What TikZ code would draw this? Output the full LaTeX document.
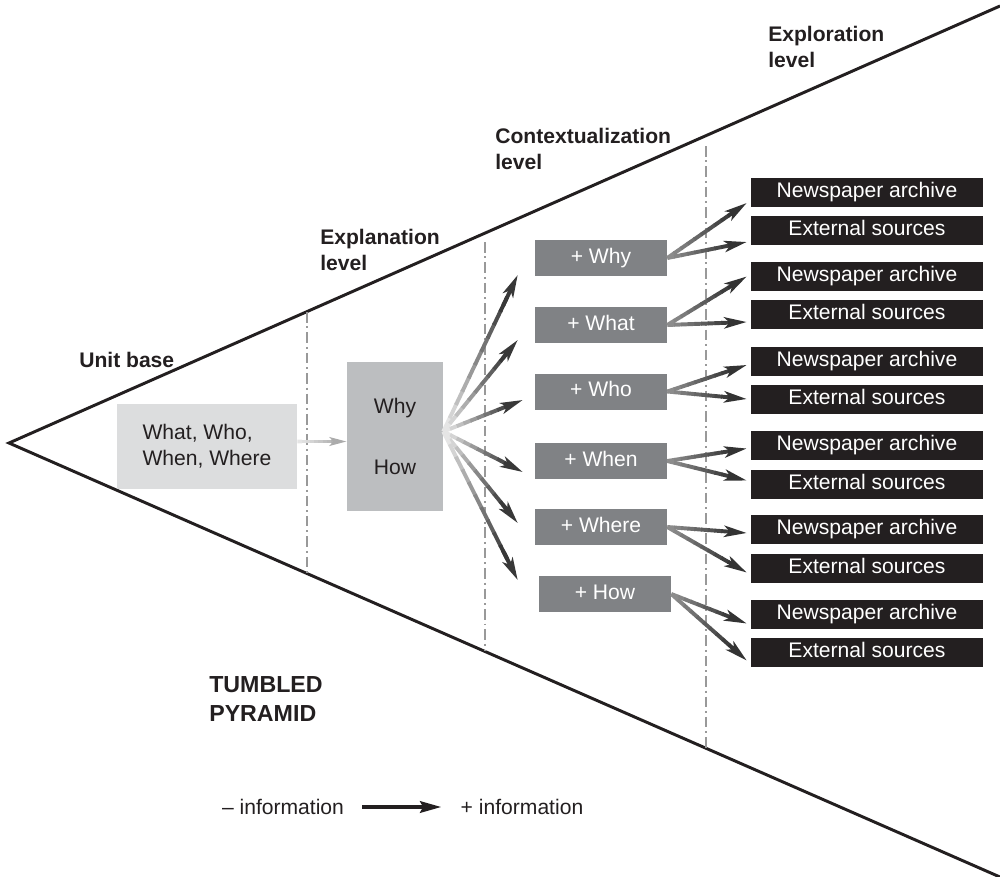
\documentclass[tikz,border=0pt]{standalone}
\usepackage{fontspec}
\setmainfont{Liberation Sans}
\usepackage{xcolor}
\usepackage{tikz}
\usetikzlibrary{positioning,calc,arrows.meta}

\definecolor{basegray}{HTML}{DCDDDE}
\definecolor{whygray}{HTML}{BCBEC0}
\definecolor{midgray}{HTML}{808285}
\definecolor{boxblack}{HTML}{231F20}
\definecolor{inkdark}{HTML}{231F20}
\definecolor{levelgray}{HTML}{999999}

\tikzset{
  txt/.style={font=\fontsize{15}{18.5}\selectfont, text=inkdark},
  levellabel/.style={txt, font=\fontsize{15}{18.5}\selectfont\bfseries, anchor=west, align=left, inner sep=0pt},
  basebox/.style={txt, fill=basegray, minimum width=4.5cm, minimum height=2.125cm, align=left},
  whybox/.style={txt, fill=whygray, minimum width=2.4cm, minimum height=3.725cm, align=center},
  plusbox/.style={txt, text=white, fill=midgray, minimum width=3.3cm, minimum height=0.9cm, inner sep=0pt, text height=0.72em, text depth=0pt},
  srcbox/.style={txt, text=white, fill=boxblack, minimum width=5.8cm, minimum height=0.725cm, inner sep=0pt, text height=0.72em, text depth=0pt},
  pyramid/.style={draw=inkdark, line width=2.1pt, line join=miter},
  levelline/.style={draw=levelgray, line width=1pt, dash pattern=on 7.5pt off 2.8pt on 1.4pt off 2.8pt},
  fanarrow/.style={line width=2.8pt, >={Stealth[length=16pt, width=8pt, inset=4pt]}},
  feedarrow/.style={line width=2.8pt, >={Stealth[length=12pt, width=6pt, inset=2.5pt]}},
  legendarrow/.style={draw=inkdark, line width=3pt, -{Stealth[length=15pt, width=8pt, inset=2pt]}, shorten <=12.8pt, shorten >=13.5pt}
}

% arrow that darkens towards its tip: from, to, start shade, end shade, style
\newcommand{\fadearrow}[5]{%
  \foreach \k in {0,...,9}{%
    \pgfmathsetmacro{\segA}{\k*0.085}%
    \pgfmathsetmacro{\segB}{\k*0.085+0.095}%
    \pgfmathtruncatemacro{\shd}{#3+(#4-#3)*\k/9}%
    \draw[#5, black!\shd] ($(#1)!\segA!(#2)$) -- ($(#1)!\segB!(#2)$);
  }%
  \draw[#5, black!#4, ->] ($(#1)!0.8!(#2)$) -- (#2);
}

\begin{document}
\begin{tikzpicture}[x=0.025cm, y=-0.025cm]
\useasboundingbox (0,0) rectangle (1000,876);

% pyramid outline
\coordinate (apex) at (9,443);
\coordinate (topend) at (1000,6);
\coordinate (botend) at (1000,877);
\draw[pyramid] (topend) -- (apex) -- (botend);

% borders between levels
\foreach \xd/\ya/\yb in {307/312/573, 485/242/651, 706/146/748}
  \draw[levelline] (\xd,\ya) -- (\xd,\yb);

% level labels
\node[levellabel] (unitlab) at (79,360) {Unit base};
\node[levellabel] (explab) at (320,250) {Explanation\\level};
\node[levellabel] (ctxlab) at (495,149) {Contextualization\\level};
\node[levellabel] (exlab) at (768,47) {Exploration\\level};
\node[levellabel, font=\fontsize{16.5}{20}\selectfont\bfseries] (tumbled) at (209,699) {TUMBLED\\PYRAMID};

% unit base and explanation
\node[basebox] (base) at (207,446.5) {What, Who,\\When, Where};
\node[whybox] (why) at (395,436.5) {Why\\[25pt]How};
\coordinate (fa) at ($(base.east)+(0,-5)$);
\coordinate (fb) at ($(why.west)+(0,5)$);
\fadearrow{fa}{fb}{10}{33}{feedarrow}

% contextualization
\coordinate (fan) at ($(why.east)+(0,-5)$);
\foreach \lab/\px/\py/\fdx/\fdy [count=\i] in {Why/601/258/-17/17, What/601/325/-17/15, Who/601/391.5/-12/8.5, When/601/461/-12/11, Where/601/527/-17/-4, How/605/594/-21/-14} {
  \node[plusbox] (p\i) at (\px,\py) {+ \lab};
  \coordinate (pt\i) at ($(p\i.west)+(\fdx,\fdy)$);
  \fadearrow{fan}{pt\i}{10}{78}{fanarrow}
}

% exploration
\foreach \i/\nay/\esy/\nad/\esd in {1/192/230/11/12, 2/276.5/314/0/8, 3/361/399/4/0, 4/445.5/484.5/3/-4, 5/529/568.5/4/4, 6/614.5/652.5/9/8} {
  \node[srcbox] (na\i) at (867,\nay) {Newspaper archive};
  \node[srcbox] (es\i) at (867,\esy) {External sources};
  \coordinate (nt\i) at ($(na\i.west)+(-4,\nad)$);
  \coordinate (et\i) at ($(es\i.west)+(-4,\esd)$);
  \fadearrow{p\i.east}{nt\i}{45}{80}{fanarrow}
  \fadearrow{p\i.east}{et\i}{45}{80}{fanarrow}
}

% legend
\node[txt, inner sep=0pt] (less) at (283,807) {– information};
\node[txt, inner sep=0pt] (more) at (522,807) {+ information};
\draw[legendarrow] (less) -- (more);
\end{tikzpicture}
\end{document}
